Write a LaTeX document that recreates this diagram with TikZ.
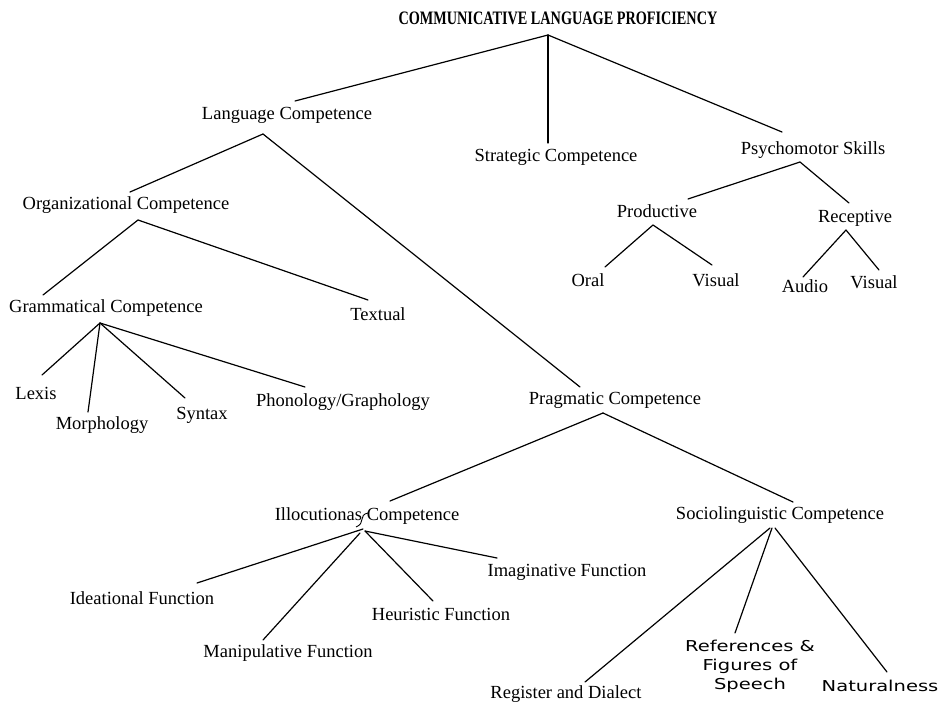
\documentclass[tikz,border=0pt]{standalone}
\usepackage{fontspec}
\setmainfont{Liberation Serif}
\newfontfamily\sansfnt{DejaVu Sans}
\usetikzlibrary{calc}
\begin{document}
\begin{tikzpicture}[x=1pt,y=-1pt,
  lbl/.style={inner sep=0pt, font=\fontsize{18.5}{22}\selectfont, text height=13pt, text depth=4pt},
  ttl/.style={inner sep=0pt, font=\fontsize{19}{22}\selectfont\bfseries, text height=13pt, text depth=0pt},
  slbl/.style={inner sep=0pt, font=\sansfnt\fontsize{15}{19}\selectfont},
  conn/.style={line width=1.2pt, line cap=round, line join=round},
]
\useasboundingbox[fill=white] (0,0) rectangle (942,704);

% ---- nodes ----
\node[ttl]  (title)   at (558,18)  {\scalebox{0.75}[1]{COMMUNICATIVE LANGUAGE PROFICIENCY}};
\node[lbl]  (lang)    at (287,115) {Language Competence};
\node[lbl]  (strat)   at (556,157) {Strategic Competence};
\node[lbl]  (psycho)  at (813,150) {Psychomotor Skills};
\node[lbl]  (org)     at (126,205) {Organizational Competence};
\node[lbl]  (prod)    at (657,213) {Productive};
\node[lbl]  (recep)   at (855,218) {Receptive};
\node[lbl]  (oral)    at (588,282) {Oral};
\node[lbl]  (vis1)    at (716,282) {Visual};
\node[lbl]  (audio)   at (805,288) {Audio};
\node[lbl]  (vis2)    at (874,284) {Visual};
\node[lbl]  (gram)    at (106,308) {Grammatical Competence};
\node[lbl]  (textual) at (378,316) {Textual};
\node[lbl]  (lexis)   at (36,395)  {Lexis};
\node[lbl]  (morph)   at (102,425) {Morphology};
\node[lbl]  (syntax)  at (202,415) {Syntax};
\node[lbl]  (phon)    at (343,402) {Phonology/Graphology};
\node[lbl]  (prag)    at (615,400) {Pragmatic Competence};
\node[lbl]  (illoc)   at (367,516) {Illocutionas Competence};
\node[lbl]  (socio)   at (780,515) {Sociolinguistic Competence};
\node[lbl]  (idea)    at (142,600) {Ideational Function};
\node[lbl]  (manip)   at (288,653) {Manipulative Function};
\node[lbl]  (heur)    at (441,616) {Heuristic Function};
\node[lbl]  (imag)    at (567,572) {Imaginative Function};
\node[lbl]  (reg)     at (566,694) {Register and Dialect};
\node[slbl] (refs)    at (750,667) {\scalebox{1.3}[1]{\begin{tabular}{@{}c@{}}References \&\\Figures of\\Speech\end{tabular}}};
\node[slbl] (natur)   at (880,686) {\scalebox{1.3}[1]{Naturalness}};

% ---- connectors ----
\draw[conn] ($(title)+(-10,17)$) -- ($(lang)+(8,-14)$);
\draw[conn] ($(title)+(-10,17)$) -- ($(strat)+(-8,-14)$);
\draw[conn] ($(title)+(-10,17)$) -- ($(psycho)+(-31,-18)$);

\draw[conn] ($(lang)+(-24,19)$) -- ($(org)+(4,-13)$);
\draw[conn] ($(lang)+(-24,19)$) -- ($(prag)+(-35,-13)$);

\draw[conn] ($(psycho)+(-13,12)$) -- ($(prod)+(31,-14)$);
\draw[conn] ($(psycho)+(-13,12)$) -- ($(recep)+(-6,-15)$);
\draw[conn] ($(prod)+(-4,12)$) -- ($(oral)+(17,-15)$);
\draw[conn] ($(prod)+(-4,12)$) -- ($(vis1)+(-4,-17)$);
\draw[conn] ($(recep)+(-9,12)$) -- ($(audio)+(-2,-11)$);
\draw[conn] ($(recep)+(-9,12)$) -- ($(vis2)+(5,-14)$);

\draw[conn] ($(org)+(12,15)$) -- ($(gram)+(-63,-13)$);
\draw[conn] ($(org)+(12,15)$) -- ($(textual)+(-10,-16)$);

\draw[conn] ($(gram)+(-6,15)$) -- ($(lexis)+(6,-20)$);
\draw[conn] ($(gram)+(-6,15)$) -- ($(morph)+(-14,-13)$);
\draw[conn] ($(gram)+(-6,15)$) -- ($(syntax)+(-17,-17)$);
\draw[conn] ($(gram)+(-6,15)$) -- ($(phon)+(-38,-15)$);

\draw[conn] ($(prag)+(-12,13)$) -- ($(illoc)+(23,-15)$);
\draw[conn] ($(prag)+(-12,13)$) -- ($(socio)+(13,-13)$);

\draw[conn] ($(illoc)+(-4,13)$) -- ($(idea)+(55,-17)$);
\draw[conn] ($(illoc)+(-7,17)$) -- ($(manip)+(-25,-13)$);
\draw[conn] ($(illoc)+(-2,15)$) -- ($(heur)+(-8,-15)$);
\draw[conn] ($(illoc)+(-2,15)$) -- ($(imag)+(-70,-14)$);
\draw[line width=0.9pt] ($(illoc)+(1,-3)$) .. controls ($(illoc)+(-9,-1)$) and ($(illoc)+(-1,7)$) .. ($(illoc)+(-11,11)$);

\draw[conn] ($(socio)+(-10,13)$) -- ($(reg)+(19,-12)$);
\draw[conn] ($(socio)+(-8,13)$) -- ($(refs)+(-15,-34)$);
\draw[conn] ($(socio)+(-5,13)$) -- ($(natur)+(7,-14)$);
\end{tikzpicture}
\end{document}
